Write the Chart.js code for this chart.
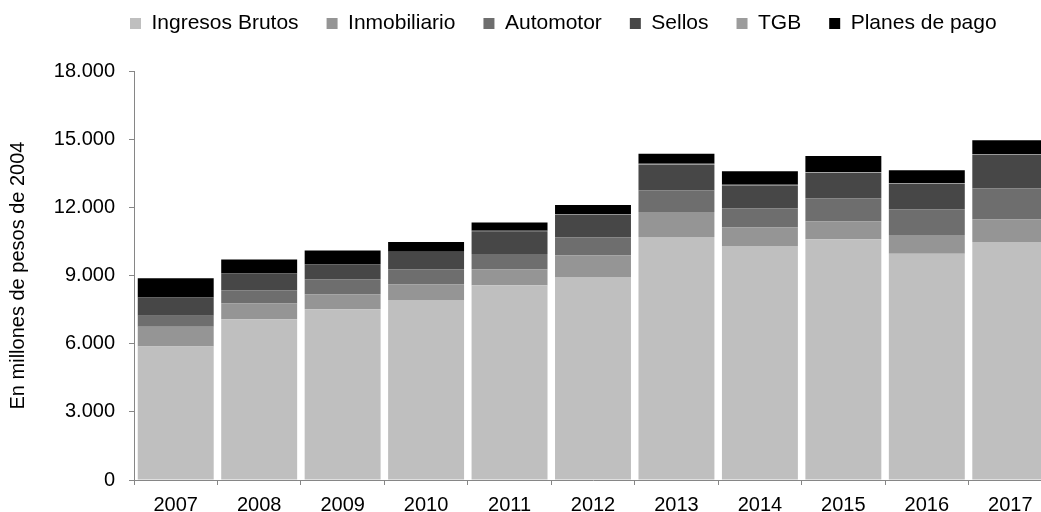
<!DOCTYPE html>
<html>
<head>
<meta charset="utf-8">
<script src="https://cdn.jsdelivr.net/npm/chart.js@4.4.1/dist/chart.umd.min.js"></script>
<style>
html,body{margin:0;padding:0;overflow:hidden;background:#fff;width:1041px;height:512px}
#wrap{width:1056px;height:512px}
</style>
</head>
<body>
<div id="wrap"><canvas id="c" width="1056" height="512"></canvas></div>
<script>
const categories = ['2007','2008','2009','2010','2011','2012','2013','2014','2015','2016','2017'];
const ingresosBrutos = [5880, 7080, 7520, 7920, 8570, 8930, 10690, 10300, 10600, 9960, 10470];
const inmobiliario   = [870, 700, 660, 700, 700, 950, 1110, 810, 790, 820, 1010];
const automotor      = [480, 570, 660, 650, 680, 790, 940, 850, 1010, 1140, 1350];
const sellos         = [800, 750, 660, 770, 1000, 1000, 1130, 1000, 1110, 1110, 1480];
const tgb            = [0, 0, 0, 0, 20, 30, 50, 30, 30, 40, 40];
const planesDePago   = [850, 600, 600, 430, 360, 400, 440, 600, 720, 560, 600];
const yTicks = [0, 3000, 6000, 9000, 12000, 15000, 18000];

Chart.defaults.font.family = '"Liberation Sans", Arial, sans-serif';
Chart.defaults.color = '#000';

const axisGray = '#868686';
const fmt = v => String(v).replace(/\B(?=(\d{3})+(?!\d))/g, '.');

const legendPlace = {
  id: 'legendPlace',
  afterLayout(chart) {
    const lg = chart.legend;
    const w = lg.right - lg.left;
    lg.left = 102; lg.right = lg.left + w;
    const h = lg.bottom - lg.top;
    lg.top = -15; lg.bottom = lg.top + h;
  }
};

const ds = (label, data, color) => ({
  label, data, backgroundColor: color, borderWidth: 0,
  categoryPercentage: 1.0, barPercentage: 0.91
});

new Chart(document.getElementById('c'), {
  type: 'bar',
  data: {
    labels: categories,
    datasets: [
      ds('Ingresos Brutos', ingresosBrutos, '#bfbfbf'),
      ds('Inmobiliario', inmobiliario, '#959595'),
      ds('Automotor', automotor, '#6e6e6e'),
      ds('Sellos', sellos, '#474747'),
      ds('TGB', tgb, '#9c9c9c'),
      ds('Planes de pago', planesDePago, '#000000')
    ]
  },
  options: {
    responsive: false,
    animation: false,
    layout: { padding: { top: 12, right: 4, left: 0, bottom: 0 } },
    plugins: {
      legend: {
        position: 'top',
        align: 'start',
        labels: { boxWidth: 11, boxHeight: 11, padding: 28, font: { size: 21 }, color: '#000' }
      },
      tooltip: { enabled: false }
    },
    scales: {
      x: {
        stacked: true,
        afterFit(s) { s.height = 32; },
        border: { display: true, color: axisGray, width: 1 },
        grid: { display: true, drawOnChartArea: false, offset: true, tickLength: 5, color: axisGray },
        ticks: { font: { size: 20 }, padding: 8, color: '#000', maxRotation: 0 }
      },
      y: {
        stacked: true,
        min: 0, max: 18000,
        afterFit(s) { s.width = 134; },
        afterBuildTicks(s) { s.ticks = yTicks.map(v => ({ value: v })); },
        border: { display: true, color: axisGray, width: 1 },
        grid: { display: true, drawOnChartArea: false, tickLength: 5, color: axisGray },
        ticks: { font: { size: 20 }, padding: 14, color: '#000', callback: v => fmt(v) },
        title: { display: true, text: 'En millones de pesos de 2004', font: { size: 20 }, color: '#000', padding: { top: 6, bottom: 0 } }
      }
    }
  },
  plugins: [legendPlace]
});
</script>
</body>
</html>
